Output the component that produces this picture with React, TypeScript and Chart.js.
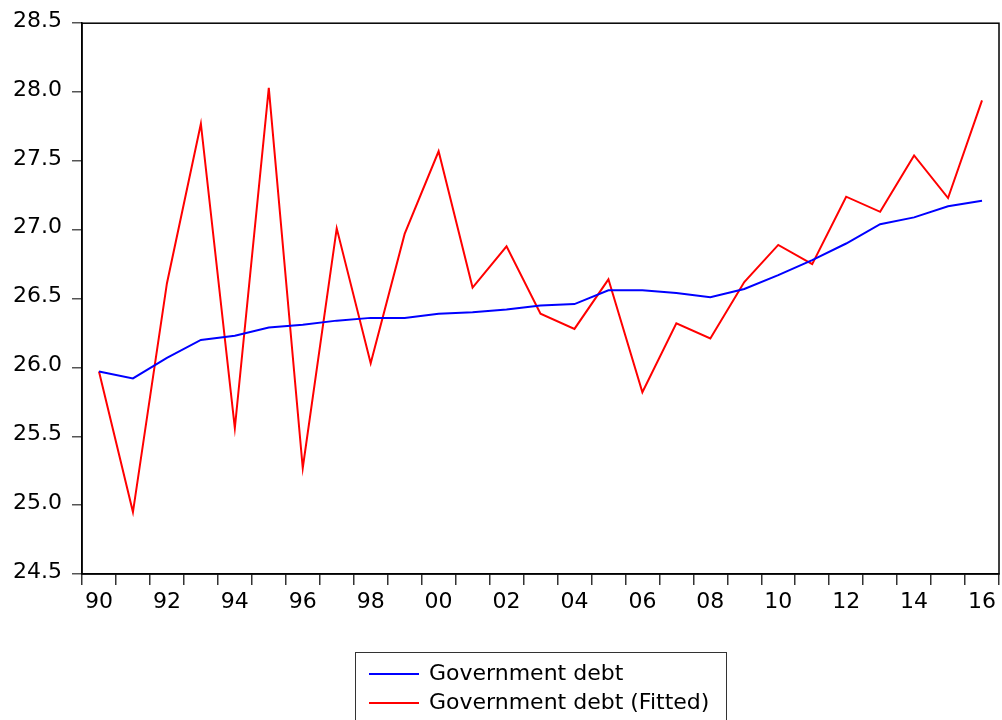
import React, { useEffect, useRef } from 'react';
import { Chart, registerables } from 'chart.js';

Chart.register(...registerables);

const yearLabels = [
  '1990', '1991', '1992', '1993', '1994', '1995', '1996', '1997', '1998', '1999',
  '2000', '2001', '2002', '2003', '2004', '2005', '2006', '2007', '2008', '2009',
  '2010', '2011', '2012', '2013', '2014', '2015', '2016',
];

const actualDebt = [
  25.97, 25.92, 26.07, 26.2, 26.23, 26.29, 26.31, 26.34, 26.36, 26.36,
  26.39, 26.4, 26.42, 26.45, 26.46, 26.56, 26.56, 26.54, 26.51, 26.57,
  26.67, 26.78, 26.9, 27.04, 27.09, 27.17, 27.21,
];

const fittedDebt = [
  25.97, 24.95, 26.61, 27.77, 25.56, 28.03, 25.27, 27.01, 26.03, 26.97,
  27.57, 26.58, 26.88, 26.39, 26.28, 26.64, 25.82, 26.32, 26.21, 26.62,
  26.89, 26.75, 27.24, 27.13, 27.54, 27.23, 27.94,
];

const seriesNames = ['Government debt', 'Government debt (Fitted)'];
const seriesColors = ['#0000ff', '#ff0000'];
const yMin = 24.5;
const yMax = 28.5;
const yStep = 0.5;

const FONT = 'DejaVu Sans';
const FONT_SIZE = 22;

const framePlugin = {
  id: 'frame',
  afterDraw(chart: any) {
    const { ctx, chartArea } = chart;
    ctx.save();
    ctx.strokeStyle = '#000';
    ctx.lineWidth = 1.5;
    ctx.strokeRect(chartArea.left, chartArea.top, chartArea.right - chartArea.left, chartArea.bottom - chartArea.top);
    ctx.restore();
  },
};

const boxLegendPlugin = {
  id: 'boxLegend',
  afterDraw(chart: any) {
    const { ctx } = chart;
    const boxX = 355.5;
    const boxY = 652.5;
    const boxW = 371;
    const boxH = 80;
    ctx.save();
    ctx.strokeStyle = '#333';
    ctx.lineWidth = 1;
    ctx.strokeRect(boxX, boxY, boxW, boxH);
    ctx.font = `${FONT_SIZE}px "${FONT}"`;
    ctx.textBaseline = 'middle';
    ctx.textAlign = 'left';
    chart.data.datasets.forEach((ds: any, i: number) => {
      const y = 674 + i * 29;
      ctx.strokeStyle = ds.borderColor;
      ctx.lineWidth = 2;
      ctx.beginPath();
      ctx.moveTo(369, y);
      ctx.lineTo(419, y);
      ctx.stroke();
      ctx.fillStyle = '#000';
      ctx.fillText(ds.label, 429, y);
    });
    ctx.restore();
  },
};

export default function App() {
  const canvasRef = useRef<HTMLCanvasElement | null>(null);

  useEffect(() => {
    if (!canvasRef.current) return;
    const chart = new Chart(canvasRef.current, {
      type: 'line',
      data: {
        labels: yearLabels,
        datasets: [
          {
            label: seriesNames[0],
            data: actualDebt,
            borderColor: seriesColors[0],
            backgroundColor: seriesColors[0],
            borderWidth: 2,
            pointRadius: 0,
            tension: 0,
          },
          {
            label: seriesNames[1],
            data: fittedDebt,
            borderColor: seriesColors[1],
            backgroundColor: seriesColors[1],
            borderWidth: 2,
            pointRadius: 0,
            tension: 0,
          },
        ],
      },
      options: {
        responsive: false,
        animation: false,
        layout: { padding: { top: 22, right: 3, left: 0, bottom: 0 } },
        plugins: {
          legend: { display: false },
          tooltip: { enabled: false },
        },
        scales: {
          x: {
            type: 'category',
            offset: true,
            afterFit(scale: any) {
              scale.height = 146;
            },
            grid: {
              offset: true,
              drawOnChartArea: false,
              drawTicks: true,
              tickLength: 11,
              color: '#333',
              lineWidth: 1.5,
            },
            border: { display: true, color: '#000', width: 1.5 },
            ticks: {
              autoSkip: false,
              maxRotation: 0,
              minRotation: 0,
              padding: 4,
              color: '#000',
              font: { family: FONT, size: FONT_SIZE },
              callback: (_v: any, idx: number) => (idx % 2 === 0 ? yearLabels[idx].slice(2) : ''),
            },
          },
          y: {
            min: yMin,
            max: yMax,
            afterFit(scale: any) {
              scale.width = 82;
            },
            grid: {
              drawOnChartArea: false,
              drawTicks: true,
              tickLength: 10,
              color: '#555',
              lineWidth: 1.5,
            },
            border: { display: true, color: '#000', width: 1.5 },
            ticks: {
              stepSize: yStep,
              padding: 10,
              labelOffset: -2,
              color: '#000',
              font: { family: FONT, size: FONT_SIZE },
              callback: (v: any) => Number(v).toFixed(1),
            },
          },
        },
      },
      plugins: [framePlugin, boxLegendPlugin],
    });
    return () => chart.destroy();
  }, []);

  return (
    <div style={{ position: 'absolute', left: 0, top: 0, width: 1002, height: 720, background: '#fff' }}>
      <canvas ref={canvasRef} width={1002} height={720} style={{ display: 'block' }} />
    </div>
  );
}
